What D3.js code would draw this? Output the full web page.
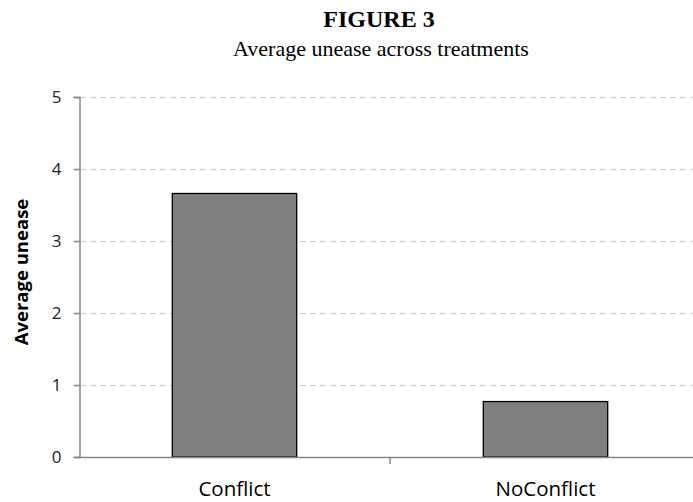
<!DOCTYPE html>
<html>
<head>
<meta charset="utf-8">
<script src="https://cdn.jsdelivr.net/npm/d3@7"></script>
<style>
  html, body { margin: 0; padding: 0; background: #fff; }
  svg { display: block; }
</style>
</head>
<body>
<script>
const categories = ["Conflict", "NoConflict"];
const values = [3.66, 0.77];
const yTicks = [0, 1, 2, 3, 4, 5];
const titleText = "FIGURE 3";
const subtitleText = "Average unease across treatments";
const yLabel = "Average unease";

const W = 693, H = 502;
const svg = d3.select("body").append("svg").attr("width", W).attr("height", H);

const x = d3.scaleBand().domain(categories).range([79, 701]).padding(0);
const y = d3.scaleLinear().domain([0, 5]).range([457, 97]);

const sansFont = "Open Sans, Noto Sans, sans-serif";
const serifFont = "Liberation Serif, Times New Roman, serif";

// Title
svg.append("text").attr("x", 379).attr("y", 27).attr("text-anchor", "middle")
  .attr("font-family", serifFont)
  .attr("font-weight", "bold").attr("font-size", 24).attr("fill", "#000").text(titleText);
svg.append("text").attr("x", 381).attr("y", 56).attr("text-anchor", "middle")
  .attr("font-family", serifFont)
  .attr("font-size", 22).attr("fill", "#000").text(subtitleText);

// Gridlines
svg.append("g").selectAll("line").data(yTicks.filter(d => d > 0)).join("line")
  .attr("x1", 80).attr("x2", 693)
  .attr("y1", d => Math.round(y(d)) + 0.5).attr("y2", d => Math.round(y(d)) + 0.5)
  .attr("stroke", "#c8c8c8").attr("stroke-width", 1).attr("stroke-dasharray", "6,4");

// Bars
const bw = x.bandwidth() * 0.4;
svg.append("g").selectAll("rect").data(categories).join("rect")
  .attr("x", (d) => x(d) + x.bandwidth() / 2 - bw / 2)
  .attr("y", (d, i) => y(values[i]))
  .attr("width", bw)
  .attr("height", (d, i) => y(0) - y(values[i]))
  .attr("fill", "#808080").attr("stroke", "#000").attr("stroke-width", 1.3);

// Y axis
const yAxis = d3.axisLeft(y).tickValues(yTicks).tickSize(6).tickPadding(12).tickFormat(d3.format("d"));
const gy = svg.append("g").attr("transform", "translate(79.5,0)").call(yAxis);
gy.select(".domain").attr("stroke", "#868686").attr("stroke-width", 1.5);
gy.selectAll(".tick line").attr("stroke", "#868686").attr("stroke-width", 1.5);
gy.selectAll(".tick text").attr("font-family", sansFont).attr("font-size", 17).attr("fill", "#222");

// X axis
const xAxis = d3.axisBottom(x).tickSize(0).tickPadding(24);
const gx = svg.append("g").attr("transform", "translate(0,457.5)").call(xAxis);
gx.select(".domain").attr("stroke", "#868686").attr("stroke-width", 1.5).attr("d", "M79,0H693");
gx.selectAll(".tick text").attr("font-family", sansFont).attr("font-size", 20.5).attr("fill", "#000");
// boundary tick marks between categories
svg.append("g").selectAll("line").data(categories.slice(1)).join("line")
  .attr("x1", d => x(d)).attr("x2", d => x(d))
  .attr("y1", 457).attr("y2", 464)
  .attr("stroke", "#868686").attr("stroke-width", 1.5);

// Y label
svg.append("text").attr("transform", "translate(28,272) rotate(-90)")
  .attr("text-anchor", "middle").attr("font-family", sansFont)
  .attr("font-weight", "bold").attr("font-size", 18.5).attr("fill", "#000").text(yLabel);
</script>
</body>
</html>
